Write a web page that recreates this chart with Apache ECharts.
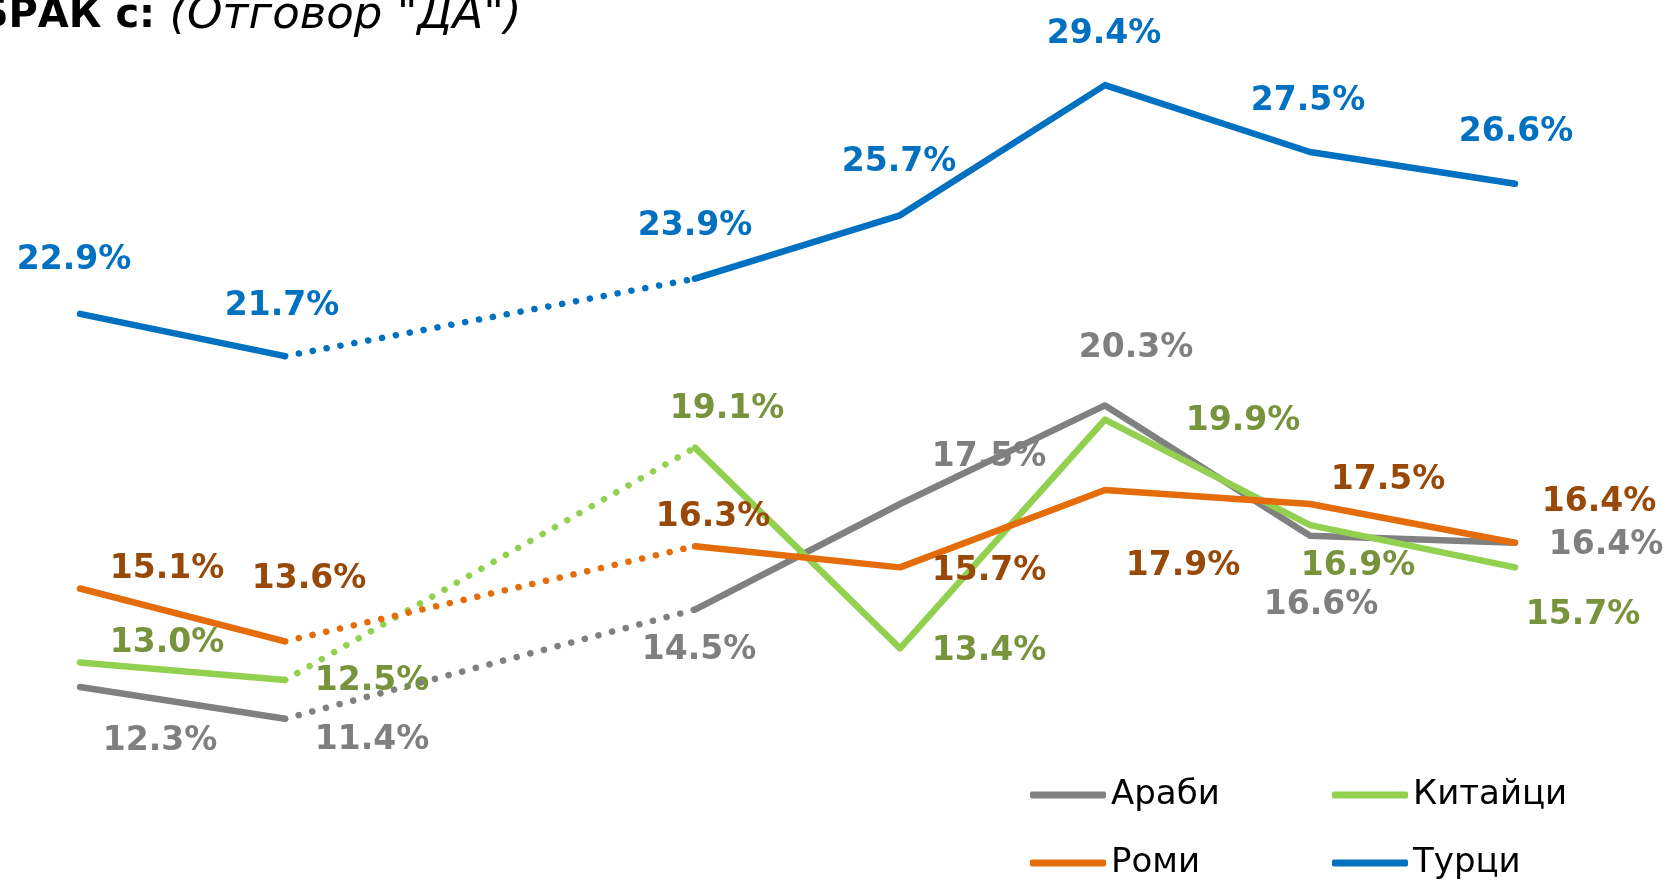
<!DOCTYPE html>
<html>
<head>
<meta charset="utf-8">
<style>
  html, body { margin: 0; padding: 0; background: #fff; }
  #chart { width: 1668px; height: 883px; }
</style>
<script src="https://cdn.jsdelivr.net/npm/echarts@6.0.0/dist/echarts.min.js"></script>
</head>
<body>
<div id="chart"></div>
<script>
// survey waves (no axis labels in the picture); the third wave has no data
const categories = ['1', '2', '3', '4', '5', '6', '7', '8']
const arabi = [12.3, 11.4, null, 14.5, 17.5, 20.3, 16.6, 16.4]
const kitaitsi = [13.0, 12.5, null, 19.1, 13.4, 19.9, 16.9, 15.7]
const romi = [15.1, 13.6, null, 16.3, 15.7, 17.9, 17.5, 16.4]
const turci = [22.9, 21.7, null, 23.9, 25.7, 29.4, 27.5, 26.6]

// where each value label sits, px from its point (layout only)
const arabiLabelAt = [[80, 54], [87, 22], null, [4, 41], [89, -47], [31, -57], [11, 70], [91, 3]]
const kitaitsiLabelAt = [[87, -19], [87, 1], null, [32, -38], [89, 3], [138, 2], [48, 41], [68, 48]]
const romiLabelAt = [[87, -19], [24, -62], null, [18, -29], [89, 4], [78, 77], [78, -24], [84, -40]]
const turciLabelAt = [[-6, -53], [-3, -50], null, [0, -52], [-1, -53], [-1, -51], [-2, -51], [1, -51]]

const FONT = '"DejaVu Sans", sans-serif'

function makeSeries (name, values, labelAt, lineColor, labelColor) {
  let solid = {
    name: name,
    type: 'line',
    data: values.map((v, i) => v === null ? null : { value: v, label: { offset: labelAt[i] } }),
    symbol: 'circle',
    symbolSize: 0,
    showSymbol: true,
    itemStyle: { color: lineColor },
    lineStyle: { color: lineColor, width: 6.5, cap: 'round', join: 'round' },
    label: {
      show: true,
      position: 'inside',
      formatter: p => p.value.toFixed(1) + '%',
      color: labelColor,
      fontSize: 33,
      fontWeight: 'bold',
      fontFamily: FONT
    },
    emphasis: { disabled: true },
    silent: true
  }
  // dotted bridge over the missing wave
  let gap = values.indexOf(null)
  let bridge = {
    name: name,
    type: 'line',
    data: values.map((v, i) => (i === gap - 1 || i === gap + 1) ? v : null),
    connectNulls: true,
    symbol: 'none',
    itemStyle: { color: lineColor },
    lineStyle: { color: lineColor, width: 6.5, type: [0.1, 14], cap: 'round' },
    emphasis: { disabled: true },
    silent: true
  }
  return [bridge, solid]
}

const legendText = { fontSize: 34, lineHeight: 40, color: '#000', fontFamily: FONT }

function legendColumn (names, left) {
  return {
    data: names,
    orient: 'vertical',
    left: left,
    top: 775,
    padding: 0,
    itemWidth: 76,
    itemHeight: 7,
    itemGap: 28,
    icon: 'roundRect',
    textStyle: legendText,
    selectedMode: false
  }
}

const options = {
  animation: false,
  backgroundColor: '#fff',
  grid: { left: 80, right: 153, top: 64, bottom: 115 },
  xAxis: {
    type: 'category',
    data: categories,
    boundaryGap: false,
    show: false
  },
  yAxis: {
    type: 'value',
    min: 10,
    max: 30,
    show: false
  },
  legend: [
    legendColumn(['Араби', 'Роми'], 1030),
    legendColumn(['Китайци', 'Турци'], 1332)
  ],
  graphic: [
    {
      type: 'text',
      x: -22,
      y: -6,
      style: {
        text: '{b|БРАК с:}{i| (Отговор "ДА")}',
        fill: '#000',
        rich: {
          b: { fontSize: 40, fontWeight: 'bold', fontFamily: FONT, fill: '#000' },
          i: { fontSize: 45, fontStyle: 'italic', fontFamily: FONT, fill: '#000' }
        }
      }
    }
  ],
  series: [
    ...makeSeries('Араби', arabi, arabiLabelAt, '#808080', '#7f7f7f'),
    ...makeSeries('Китайци', kitaitsi, kitaitsiLabelAt, '#92d050', '#77933c'),
    ...makeSeries('Роми', romi, romiLabelAt, '#e46c0a', '#984807'),
    ...makeSeries('Турци', turci, turciLabelAt, '#0070c0', '#0070c0')
  ]
}

const myChart = echarts.init(document.getElementById('chart'))
myChart.setOption(options)
</script>
</body>
</html>
